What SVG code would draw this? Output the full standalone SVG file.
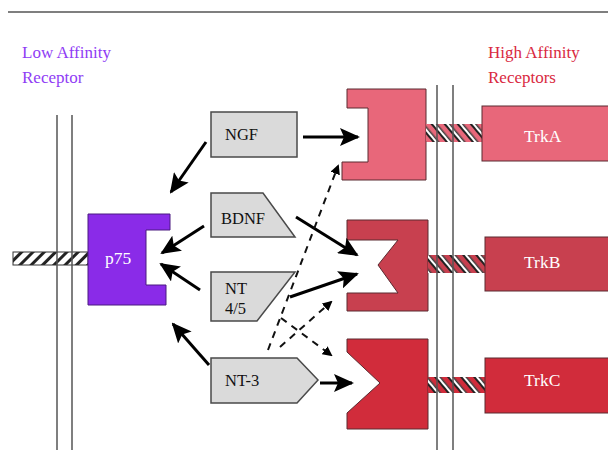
<svg xmlns="http://www.w3.org/2000/svg" width="608" height="450" viewBox="0 0 608 450">
<defs>
<style>
.lbl{font-family:"Liberation Serif","DejaVu Serif",serif;font-size:17px}
.wt{font-family:"Liberation Serif","DejaVu Serif",serif;font-size:17.5px;fill:#fff}
.bt{font-family:"Liberation Serif","DejaVu Serif",serif;font-size:16.5px;fill:#111}
.lig{fill:#dadada;stroke:#4a4a4a;stroke-width:1.5}
.mem{stroke:#555;stroke-width:1.5;fill:none}
.rec{stroke:#5a2a30;stroke-width:1}
.sol{stroke:#000;stroke-width:3;fill:none;marker-end:url(#ah)}
.dsh{stroke:#111;stroke-width:2;fill:none;stroke-dasharray:7,6;marker-end:url(#ahs)}
</style>
<marker id="ah" markerWidth="20" markerHeight="18" refX="18" refY="9" orient="auto" markerUnits="userSpaceOnUse"><path d="M0,0 L20,9 L0,18 L4,9 z" fill="#000"/></marker>
<marker id="ahs" markerWidth="10" markerHeight="10" refX="8" refY="5" orient="auto" markerUnits="userSpaceOnUse"><path d="M0,0 L10,5 L0,10 z" fill="#000"/></marker>
<pattern id="hbw" width="8" height="8" patternUnits="userSpaceOnUse" patternTransform="rotate(45)"><rect width="8" height="8" fill="#fff"/><rect width="3" height="8" fill="#222"/></pattern>
<pattern id="hA" width="10" height="10" patternUnits="userSpaceOnUse" patternTransform="rotate(-40)"><rect width="10" height="10" fill="#e8677a"/><rect x="0" width="2" height="10" fill="#222"/><rect x="2" width="2" height="10" fill="#fff"/><rect x="4" width="1.5" height="10" fill="#444"/></pattern>
<pattern id="hB" width="10" height="10" patternUnits="userSpaceOnUse" patternTransform="rotate(-40)"><rect width="10" height="10" fill="#c8404f"/><rect x="0" width="2" height="10" fill="#222"/><rect x="2" width="2" height="10" fill="#fff"/><rect x="4" width="1.5" height="10" fill="#444"/></pattern>
<pattern id="hC" width="10" height="10" patternUnits="userSpaceOnUse" patternTransform="rotate(-40)"><rect width="10" height="10" fill="#d12c3b"/><rect x="0" width="2" height="10" fill="#222"/><rect x="2" width="2" height="10" fill="#fff"/><rect x="4" width="1.5" height="10" fill="#444"/></pattern>
</defs>
<rect width="608" height="450" fill="#fff"/>
<line x1="8" y1="12" x2="608" y2="12" stroke="#555" stroke-width="1.5"/>

<g id="titles">
<text class="lbl" x="22" y="58" fill="#8f3cf5">Low Affinity</text>
<text class="lbl" x="22" y="83" fill="#8f3cf5">Receptor</text>
<text class="lbl" x="488" y="58" fill="#d9293f">High Affinity</text>
<text class="lbl" x="488" y="83" fill="#d9293f">Receptors</text>
</g>

<g id="p75">
<rect x="13" y="252" width="75" height="13" fill="url(#hbw)" stroke="#333" stroke-width="1"/>
<path d="M88,214 H170 V230 H146 V285 H166 V305 H88 Z" fill="#8a2be8" stroke="#4a1a80" stroke-width="1"/>
<text class="wt" x="105" y="264">p75</text>
</g>
<g id="left-membrane">
<line class="mem" x1="57" y1="115" x2="57" y2="450"/>
<line class="mem" x1="72" y1="115" x2="72" y2="450"/>
</g>

<g id="TrkA">
<path class="rec" d="M347,89 H426 V180 H342 V162 H368 V108 H347 Z" fill="#e8677a"/>
<rect x="426" y="124" width="56" height="18" fill="url(#hA)"/>
<rect class="rec" x="482" y="106" width="130" height="55" fill="#e8677a"/>
<text class="wt" x="524" y="142">TrkA</text>
</g>
<g id="TrkB">
<path class="rec" d="M347,220 H428 V311 H347 V293 H398 L378,265 L398,240 H347 Z" fill="#c8404f"/>
<rect x="428" y="255" width="57" height="18" fill="url(#hB)"/>
<rect class="rec" x="485" y="237" width="130" height="54" fill="#c8404f"/>
<text class="wt" x="524" y="268">TrkB</text>
</g>
<g id="TrkC">
<path class="rec" d="M347,339 H428 V429 H347 V413 L380,383 L347,352 Z" fill="#d12c3b"/>
<rect x="428" y="377" width="57" height="16" fill="url(#hC)"/>
<rect class="rec" x="485" y="358" width="130" height="55" fill="#d12c3b"/>
<text class="wt" x="524" y="386">TrkC</text>
</g>
<g id="right-membrane">
<line class="mem" x1="437" y1="85" x2="437" y2="450"/>
<line class="mem" x1="453" y1="85" x2="453" y2="450"/>
</g>

<g id="NGF">
<rect class="lig" x="211" y="112" width="86" height="45"/>
<text class="bt" x="225" y="140">NGF</text>
</g>
<g id="BDNF">
<path class="lig" d="M211,193 H263 L295,237 H211 Z"/>
<text class="bt" x="221" y="224">BDNF</text>
</g>
<g id="NT45">
<path class="lig" d="M211,272 H295 L257,321 H211 Z"/>
<text class="bt" x="225" y="294">NT</text>
<text class="bt" x="225" y="314">4/5</text>
</g>
<g id="NT3">
<path class="lig" d="M211,358 H297 L318,380 L297,403 H211 Z"/>
<text class="bt" x="225" y="386">NT-3</text>
</g>

<g id="connectors">
<line class="sol" x1="303" y1="137" x2="358" y2="137"/>
<line class="sol" x1="206" y1="142" x2="171" y2="192"/>
<line class="sol" x1="204" y1="226" x2="162" y2="253"/>
<line class="sol" x1="200" y1="290" x2="161" y2="264"/>
<line class="sol" x1="209" y1="365" x2="173" y2="324"/>
<line class="sol" x1="296" y1="217" x2="357" y2="255"/>
<line class="sol" x1="290" y1="297" x2="357" y2="274"/>
<line class="sol" x1="320" y1="383" x2="352" y2="383"/>
<line class="dsh" x1="268" y1="350" x2="338" y2="166"/>
<line class="dsh" x1="280" y1="347" x2="331" y2="302"/>
<line class="dsh" x1="281" y1="318" x2="331" y2="355"/>
</g>
</svg>
